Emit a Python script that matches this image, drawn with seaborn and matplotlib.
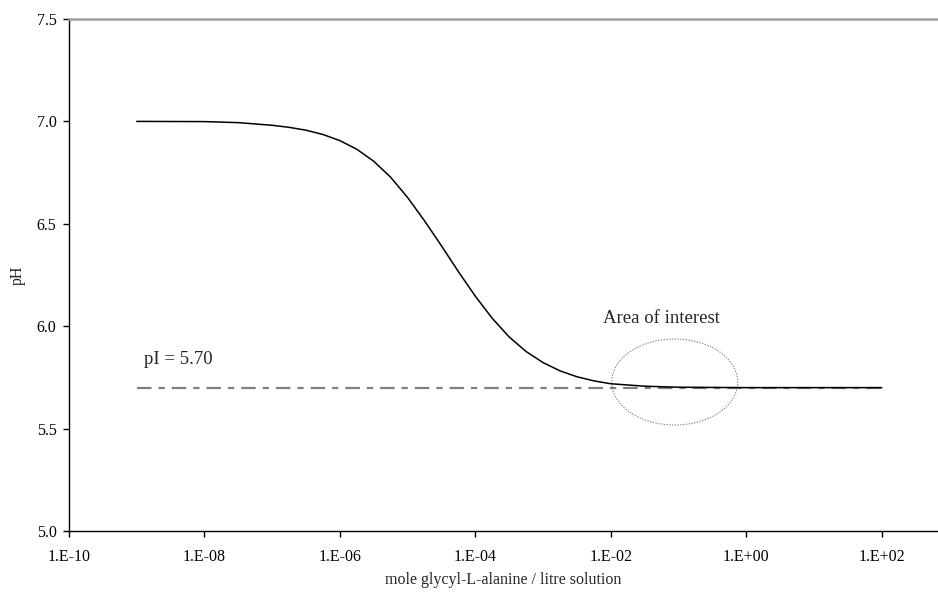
import numpy as np
import pandas as pd
import matplotlib
matplotlib.use("Agg")
import matplotlib.pyplot as plt
from matplotlib.patches import Ellipse
import seaborn as sns

# ---- data ----
log_conc = [-9, -8, -7.5, -7, -6.75, -6.5, -6.25, -6, -5.75, -5.5, -5.25, -5,
            -4.75, -4.5, -4.25, -4, -3.75, -3.5, -3.25, -3, -2.75, -2.5, -2.25,
            -2, -1.5, -1, -0.5, 0, 1, 2]
ph_values = [7.00, 6.999, 6.994, 6.981, 6.971, 6.957, 6.936, 6.906, 6.864,
             6.805, 6.727, 6.628, 6.514, 6.392, 6.266, 6.146, 6.038, 5.947,
             5.876, 5.822, 5.782, 5.753, 5.733, 5.719, 5.707, 5.702, 5.701,
             5.70, 5.70, 5.70]
pI_value = 5.70
pI_range = [1e-9, 1e2]
x_ticks = [1e-10, 1e-8, 1e-6, 1e-4, 1e-2, 1e0, 1e2]
x_tick_labels = ["1.E-10", "1.E-08", "1.E-06", "1.E-04", "1.E-02", "1.E+00", "1.E+02"]
y_ticks = [5.0, 5.5, 6.0, 6.5, 7.0, 7.5]

curve = pd.DataFrame({"conc": [10.0 ** v for v in log_conc], "pH": ph_values})
pi_line = pd.DataFrame({"conc": pI_range, "pH": [pI_value] * len(pI_range)})

sns.set_style("white")
plt.rcParams["font.family"] = ["Liberation Serif", "DejaVu Serif"]
plt.rcParams["lines.scale_dashes"] = False

fig = plt.figure(figsize=(9.38, 5.96), dpi=100)
ax = fig.add_axes([69 / 938, 1 - 531 / 596, 1 - 69 / 938, 512 / 596])

ax.set_xscale("log")
sns.lineplot(data=pi_line, x="conc", y="pH", ax=ax, color="#808080",
             linewidth=1.6, dashes=False)
ax.lines[-1].set_dashes([10.5, 5, 4.5, 5])
sns.lineplot(data=curve, x="conc", y="pH", ax=ax, color="black",
             linewidth=1.1, dashes=False)

ax.set_xlim(1e-10, 10 ** 2.83)
ax.set_ylim(5.0, 7.5)
ax.set_xticks(x_ticks)
ax.set_xticklabels(x_tick_labels)
ax.xaxis.set_minor_locator(matplotlib.ticker.NullLocator())
ax.set_yticks(y_ticks)
ax.set_yticklabels([f"{v:.1f}" for v in y_ticks])

ax.tick_params(axis="both", which="major", direction="out", length=4,
               width=1, color="black", labelsize=11.5, labelcolor="black",
               bottom=True, left=True)
ax.tick_params(axis="x", pad=9)
ax.tick_params(axis="y", pad=5)

for side in ["left", "bottom"]:
    ax.spines[side].set_color("black")
    ax.spines[side].set_linewidth(1.0)
ax.spines["right"].set_visible(False)
ax.spines["top"].set_color("#a0a0a0")
ax.spines["top"].set_linewidth(1.8)

ax.set_xlabel("mole glycyl-L-alanine / litre solution", fontsize=11.5)
ax.set_ylabel("pH", fontsize=11.5)
ax.xaxis.set_label_coords(0.5, -49 / 512, transform=ax.transAxes)
ax.xaxis.label.set_va("center")
ax.yaxis.set_label_coords(-51 / 869, 0.5, transform=ax.transAxes)
ax.yaxis.label.set_va("center")

ax.text(10 ** -8.89, 5.835, "pI = 5.70", fontsize=13.5, ha="left", va="center")
ax.text(10 ** -2.12, 6.04, "Area of interest", fontsize=13.5, ha="left", va="center")

ell = Ellipse((0.697, 0.291), 0.145, 0.168, transform=ax.transAxes,
              fill=False, edgecolor="#888888", linewidth=0.8, linestyle=(0, (1, 1)))
ax.add_patch(ell)

fig.savefig("out.png", dpi=100)
